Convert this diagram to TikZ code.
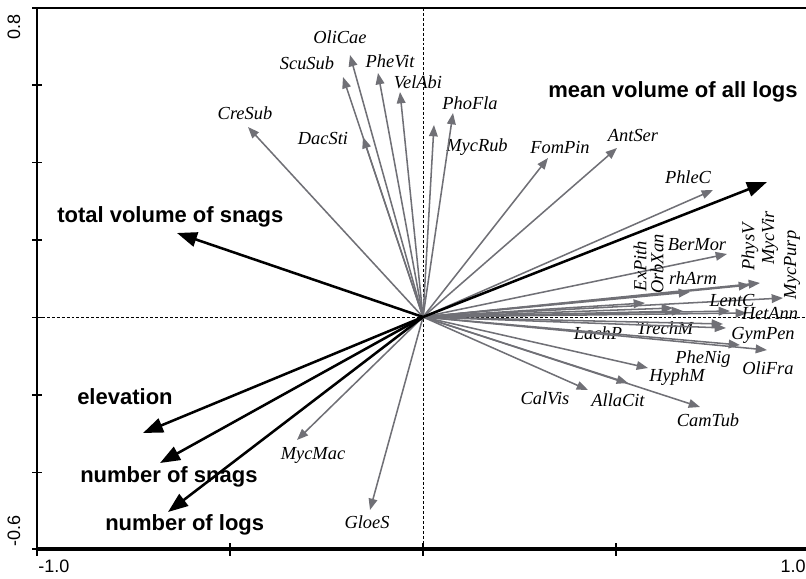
\documentclass[tikz,border=0pt]{standalone}
\usepackage{fontspec}
\setmainfont{Liberation Serif}
\newfontfamily\arialf{Liberation Sans}
\usetikzlibrary{arrows.meta}
\definecolor{spgray}{RGB}{112,112,118}
\tikzset{
  sp/.style={draw=spgray, line width=1.15pt, -{Triangle[length=8.5pt,width=6.5pt]}, fill=spgray},
  env/.style={draw=black, line width=1.9pt, -{Triangle[length=15pt,width=11pt]}},
  lab/.style={inner sep=0pt, font=\fontsize{13.8}{14}\selectfont\itshape},
  envlab/.style={inner sep=0pt, anchor=west, font=\arialf\bfseries\fontsize{16.5}{18}\selectfont},
  ticklab/.style={inner sep=0pt, font=\arialf\fontsize{13.5}{14}\selectfont},
  zeroline/.style={draw=black, line width=0.7pt, dash pattern=on 2.2pt off 1.5pt},
  tickmark/.style={draw=black, line width=1.1pt}
}
\begin{document}
\begin{tikzpicture}[x=0.75pt,y=-0.75pt]
\useasboundingbox (0,0) rectangle (806,578);
% origin and frame corners
\coordinate (O) at (423,317);
\coordinate (TL) at (37,8);
\coordinate (BL) at (37,549);
\coordinate (TR) at (806,8);
\coordinate (BR) at (806,549);
\coordinate (Vt) at (423,8);
\coordinate (Vb) at (423,549);
\coordinate (Hl) at (37,317);
\coordinate (Hr) at (806,317);
% dashed zero lines
\draw[zeroline] (Vt) -- (Vb);
\draw[zeroline] (Hl) -- (Hr);
% frame
\draw[line width=1.5pt] (BL) -- (TL);
\draw[line width=1.1pt] (TL) -- (TR);
\draw[line width=2.4pt] (BL) -- (BR);
% ticks left
\foreach \yy in {85,162.5,240,317.5,395,472.5,549} {
  \draw[tickmark] (32,\yy) -- (42,\yy);
}
\draw[tickmark] (32,8) -- (37,8);
% ticks bottom
\foreach \xx in {37,230,423,616} {
  \draw[tickmark] (\xx,543) -- (\xx,556);
}
% tick labels
\node[ticklab] (xmin) at (54,566) {-1.0};
\node[ticklab] (xmax) at (793,566) {1.0};
\node[ticklab, rotate=90] (ymax) at (14,27) {0.8};
\node[ticklab, rotate=90] (ymin) at (14,531) {-0.6};
% species arrows: name / tip x / tip y / label x / label y / rotation
\foreach \n/\tx/\ty/\lx/\ly/\r in {
  CreSub/248/127/245/113/0,
  ScuSub/343/77/307/63/0,
  OliCae/350/55/340/37/0,
  PheVit/378/73/390/61/0,
  VelAbi/400/92/418/82/0,
  DacSti/363/137/323/139/0,
  MycRub/434/125/477/147/0,
  PhoFla/453/113/470/103/0,
  FomPin/548/158/560/147/0,
  AntSer/617/148/633/135/0,
  PhleC/713/190/688/177/0,
  BerMor/727/254/697/245/0,
  ExPith/645/303/640/266/90,
  OrbXan/673/308/657/264/90,
  rhArm/690/292/693/278/0,
  PhysV/750/285/750/247/90,
  MycVir/760/283/770/238/90,
  MycPurp/783/298/792/265/90,
  LentC/730/311/732/300/0,
  HetAnn/747/313/770/314/0,
  TrechM/683/311/665/328/0,
  GymPen/723/324/763/335/0,
  LachP/726/328/598/333/0,
  PheNig/740/345/703/359/0,
  OliFra/767/350/768/368/0,
  HyphM/648/368/677/377/0,
  AllaCit/628/383/618/400/0,
  CalVis/588/390/545/398/0,
  CamTub/700/407/708/420/0,
  MycMac/297/440/313/455/0,
  GloeS/370/510/367/522/0} {
  \coordinate (t\n) at (\tx,\ty);
  \draw[sp] (O) -- (t\n);
  \node[lab, rotate=\r] (l\n) at (\lx,\ly) {\n};
}
% environmental arrows
\coordinate (eMean) at (767,182);
\coordinate (eTot) at (177,233);
\coordinate (eElev) at (143,433);
\coordinate (eSnag) at (160,463);
\coordinate (eLogs) at (168,512);
\draw[env] (O) -- (eMean);
\draw[env] (O) -- (eTot);
\draw[env] (O) -- (eElev);
\draw[env] (O) -- (eSnag);
\draw[env] (O) -- (eLogs);
\node[envlab] (nMean) at (548,92) {mean volume of all logs};
\node[envlab] (nTot) at (57,217) {total volume of snags};
\node[envlab] (nElev) at (77,397) {elevation};
\node[envlab] (nSnag) at (80,477) {number of snags};
\node[envlab] (nLogs) at (105,525) {number of logs};
\end{tikzpicture}
\end{document}
